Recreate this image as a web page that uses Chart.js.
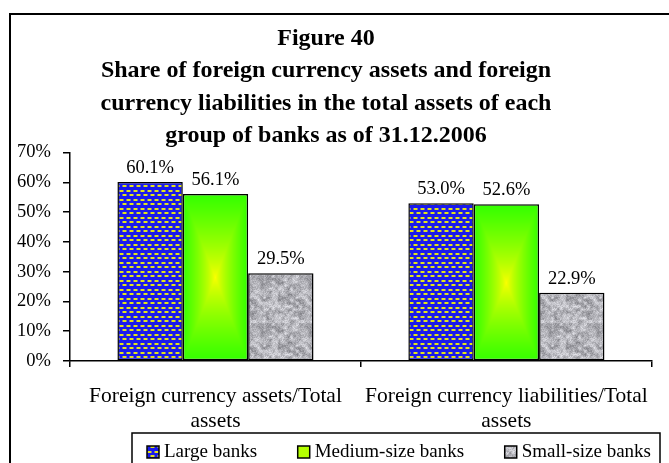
<!DOCTYPE html>
<html>
<head>
<meta charset="utf-8">
<script src="https://cdn.jsdelivr.net/npm/chart.js@4"></script>
<style>
  body { margin: 0; background: #fff; }
  #wrap { width: 669px; height: 463px; position: relative; }
</style>
</head>
<body>
<div id="wrap"><canvas id="chart"></canvas></div>
<script>
// data
const categories = [
  ['Foreign currency assets/Total', 'assets'],
  ['Foreign currency liabilities/Total', 'assets']
];
const seriesNames = ['Large banks', 'Medium-size banks', 'Small-size banks'];
const largeBanks = [60.1, 53.0];
const mediumBanks = [56.1, 52.6];
const smallBanks = [29.5, 22.9];
const yTicks = [0, 10, 20, 30, 40, 50, 60, 70];

const titleLines = [
  'Figure 40',
  'Share of foreign currency assets and foreign',
  'currency liabilities in the total assets of each',
  'group of banks as of 31.12.2006'
];

const FONT = "'Liberation Serif', 'Times New Roman', serif";
const CAT_PCT = 0.674;

// blue with small staggered yellow dots
function dotPattern() {
  const c = document.createElement('canvas');
  c.width = 7; c.height = 9;
  const g = c.getContext('2d');
  g.fillStyle = '#1a1aec';
  g.fillRect(0, 0, 7, 9);
  g.fillStyle = '#7a7a90';
  g.fillRect(0, 1, 5, 2);
  g.fillRect(3, 5, 5, 2); g.fillRect(-4, 5, 5, 2);
  g.fillStyle = '#e2e21c';
  g.fillRect(1, 1, 3, 2);
  g.fillRect(4, 5, 3, 2);
  return g.createPattern(c, 'repeat');
}

// grey granite texture
function granitePattern() {
  const n = 48;
  const c = document.createElement('canvas');
  c.width = n; c.height = n;
  const g = c.getContext('2d');
  const img = g.createImageData(n, n);
  const hash = (x, y) => {
    x = ((x % 16) + 16) % 16; y = ((y % 16) + 16) % 16;
    const s = Math.sin(x * 12.9898 + y * 78.233) * 43758.5453;
    return s - Math.floor(s);
  };
  const noise = (x, y) => {
    const x0 = Math.floor(x), y0 = Math.floor(y);
    const fx = x - x0, fy = y - y0;
    const a = hash(x0, y0), b = hash(x0 + 1, y0), cc = hash(x0, y0 + 1), d = hash(x0 + 1, y0 + 1);
    const sx = fx * fx * (3 - 2 * fx), sy = fy * fy * (3 - 2 * fy);
    return a + (b - a) * sx + (cc - a) * sy + (a - b - cc + d) * sx * sy;
  };
  for (let y = 0; y < n; y++) {
    for (let x = 0; x < n; x++) {
      const v = 0.65 * noise(x / 3, y / 3) + 0.35 * hash(x * 7 + 3, y * 5 + 1);
      const k = Math.round(125 + v * 110);
      const i = (y * n + x) * 4;
      img.data[i] = k; img.data[i + 1] = k; img.data[i + 2] = k + 6; img.data[i + 3] = 255;
    }
  }
  g.putImageData(img, 0, 0);
  return g.createPattern(c, 'repeat');
}

// green bar: yellow at the centre fading to green at the edges
const gradCache = {};
function centreGradient(ctx) {
  const chart = ctx.chart;
  const xs = chart.scales.x, ys = chart.scales.y;
  if (!xs || !ys || !chart.chartArea) return '#99ff00';
  const i = ctx.dataIndex;
  const bw = xs.width / categories.length * CAT_PCT / seriesNames.length;
  const cx = xs.getPixelForValue(i) + (ctx.datasetIndex - 1) * bw;
  const top = ys.getPixelForValue(ctx.raw);
  const bottom = ys.getPixelForValue(0);
  const w = Math.max(2, Math.round(bw)), h = Math.max(2, Math.round(bottom - top));
  const key = i + '_' + w + '_' + h;
  let c = gradCache[key];
  if (!c) {
    c = document.createElement('canvas');
    c.width = w; c.height = h;
    const g = c.getContext('2d');
    const img = g.createImageData(w, h);
    for (let y = 0; y < h; y++) {
      for (let x = 0; x < w; x++) {
        const dx = Math.abs(x + 0.5 - w / 2) / (w / 2);
        const dy = Math.abs(y + 0.5 - h / 2) / (h / 2);
        const t = Math.pow(Math.max(dx, dy), 0.75);
        const p = (y * w + x) * 4;
        img.data[p] = Math.round(255 - t * 205);
        img.data[p + 1] = 255;
        img.data[p + 2] = 0;
        img.data[p + 3] = 255;
      }
    }
    g.putImageData(img, 0, 0);
    gradCache[key] = c;
  }
  const pat = chart.ctx.createPattern(c, 'no-repeat');
  pat.setTransform(new DOMMatrix().translate(cx - bw / 2, top));
  return pat;
}

const blue = dotPattern();
const grey = granitePattern();
const legendFills = [blue, '#b4ff00', grey];

const frame = {
  id: 'frame',
  beforeDraw(chart) {
    const ctx = chart.ctx;
    ctx.save();
    ctx.fillStyle = '#fff';
    ctx.fillRect(0, 0, chart.width, chart.height);
    ctx.strokeStyle = '#000';
    ctx.lineWidth = 2;
    ctx.strokeRect(10, 14, chart.width + 20, chart.height + 20);
    ctx.restore();
  }
};

// legend inside an open-bottomed box, like the original
const boxLegend = {
  id: 'boxLegend',
  afterDraw(chart) {
    const ctx = chart.ctx;
    const x0 = 147, x1 = 651, cy = 452;
    ctx.save();
    ctx.strokeStyle = '#000';
    ctx.lineWidth = 1.5;
    ctx.strokeRect(132, 433, 528, 60);
    ctx.font = '19px ' + FONT;
    ctx.textBaseline = 'middle';
    ctx.textAlign = 'left';
    const items = chart.data.datasets.map((ds, i) => ({ label: ds.label, fill: legendFills[i], w: ctx.measureText(ds.label).width }));
    const used = items.reduce((s, it) => s + 17 + it.w, 0);
    const gap = (x1 - x0 - used) / (items.length - 1);
    let x = x0;
    items.forEach(it => {
      ctx.fillStyle = it.fill;
      ctx.fillRect(x, cy - 6, 12, 12);
      ctx.lineWidth = 1.5;
      ctx.strokeRect(x, cy - 6, 12, 12);
      ctx.fillStyle = '#000';
      ctx.fillText(it.label, x + 17, cy);
      x += 17 + it.w + gap;
    });
    ctx.restore();
  }
};

const valueLabels = {
  id: 'valueLabels',
  afterDatasetsDraw(chart) {
    const ctx = chart.ctx;
    ctx.save();
    ctx.font = '18.5px ' + FONT;
    ctx.fillStyle = '#000';
    ctx.textAlign = 'center';
    ctx.textBaseline = 'middle';
    chart.data.datasets.forEach((ds, di) => {
      chart.getDatasetMeta(di).data.forEach((el, i) => {
        ctx.fillText(ds.data[i].toFixed(1) + '%', el.x, el.y - 14);
      });
    });
    ctx.restore();
  }
};

new Chart(document.getElementById('chart'), {
  type: 'bar',
  data: {
    labels: categories,
    datasets: [
      { label: seriesNames[0], data: largeBanks, backgroundColor: blue },
      { label: seriesNames[1], data: mediumBanks, backgroundColor: centreGradient },
      { label: seriesNames[2], data: smallBanks, backgroundColor: grey }
    ].map(d => Object.assign(d, {
      borderColor: '#000', borderWidth: 1.5, borderSkipped: false,
      categoryPercentage: CAT_PCT, barPercentage: 1
    }))
  },
  options: {
    responsive: true,
    maintainAspectRatio: false,
    animation: false,
    devicePixelRatio: 1,
    layout: { padding: { left: 0, right: 17, top: 0, bottom: 30 } },
    plugins: {
      title: {
        display: true,
        text: titleLines,
        color: '#000',
        font: { family: FONT, size: 24, weight: 'bold', lineHeight: 1.36 },
        padding: { top: 22, bottom: 0 }
      },
      legend: { display: false },
      tooltip: { enabled: false }
    },
    scales: {
      x: {
        grid: { offset: true, drawOnChartArea: false, drawTicks: true, tickLength: 6, color: '#000', lineWidth: 1.5 },
        border: { color: '#000', width: 1.5 },
        ticks: { color: '#000', font: { family: FONT, size: 21.5, lineHeight: 1.17 }, maxRotation: 0, autoSkip: false, padding: 17 },
        afterFit(s) { s.height = 72; }
      },
      y: {
        min: 0,
        max: 70,
        afterBuildTicks(s) { s.ticks = yTicks.map(v => ({ value: v })); },
        grid: { drawOnChartArea: false, drawTicks: true, tickLength: 7, color: '#000', lineWidth: 1.5 },
        border: { color: '#000', width: 1.5 },
        ticks: { color: '#000', font: { family: FONT, size: 18.5 }, padding: 12, callback: v => v + '%' },
        afterFit(s) { s.width = 70; }
      }
    }
  },
  plugins: [frame, valueLabels, boxLegend]
});
</script>
</body>
</html>
